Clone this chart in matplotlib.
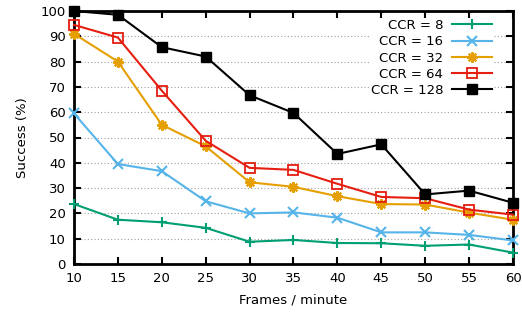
import matplotlib
matplotlib.use("Agg")
import matplotlib.pyplot as plt

frames = [10, 15, 20, 25, 30, 35, 40, 45, 50, 55, 60]
ccr8 = [23.7, 17.5, 16.5, 14.3, 8.8, 9.5, 8.3, 8.2, 7.2, 7.7, 4.5]
ccr16 = [59.5, 39.5, 36.7, 24.8, 20.0, 20.4, 18.3, 12.5, 12.5, 11.5, 9.3]
ccr32 = [91.0, 80.0, 55.0, 46.5, 32.3, 30.5, 26.8, 23.7, 23.5, 20.3, 17.5]
ccr64 = [94.5, 89.5, 68.5, 48.7, 38.0, 37.2, 31.7, 26.5, 26.0, 21.5, 19.5]
ccr128 = [100.0, 98.5, 85.7, 82.0, 66.7, 59.7, 43.5, 47.3, 27.5, 29.0, 24.2]
labels = ["CCR = 8", "CCR = 16", "CCR = 32", "CCR = 64", "CCR = 128"]

plt.rcParams['font.family'] = ['DejaVu Sans']
fig = plt.figure(figsize=(5.22, 3.13), dpi=100)
ax = fig.add_axes([74/522, 49/313, (513-74)/522, (264-11)/313])

styles = [
    dict(color="#009e73", marker="+", ms=7.5, mew=1.5),
    dict(color="#56b4e9", marker="x", ms=6.5, mew=1.5),
    dict(color="#e69f00", marker=(8, 2, 0), ms=7.5, mew=1.5),
    dict(color="#e51e10", marker="s", ms=6.5, mew=1.3, mfc="none"),
    dict(color="black", marker="s", ms=7.5, mew=1.0),
]
for ys, lab, st in zip([ccr8, ccr16, ccr32, ccr64, ccr128], labels, styles):
    ax.plot(frames, ys, lw=1.5, label=lab, clip_on=False, zorder=3, **st)

ax.set_xlim(10, 60)
ax.set_ylim(0, 100)
ax.set_xticks(range(10, 61, 5))
ax.set_yticks(range(0, 101, 10))
ax.tick_params(direction="in", top=True, right=True, length=5, width=1.5, labelsize=9.5, pad=6)
ax.tick_params(axis="x", labeltop=False)
ax.tick_params(axis="y", labelright=False)
for s in ax.spines.values():
    s.set_linewidth(2)
ax.yaxis.grid(True, linestyle=(0, (1, 2)), color="#a0a0a0", lw=0.8)
ax.set_axisbelow(True)
ax.set_xlabel("Frames / minute", fontsize=9.5, labelpad=6)
ax.set_ylabel("Success (%)", fontsize=9.5, labelpad=8)

leg = ax.legend(loc="upper right", bbox_to_anchor=(0.97, 1.0), frameon=True, markerfirst=False,
                fontsize=9.5, handlelength=3, labelspacing=0.25, borderpad=0.1, handletextpad=0.7,
                fancybox=False, edgecolor="none", framealpha=1)
for t in leg.get_texts():
    t.set_ha("right")
leg.set_zorder(2.5)

fig.savefig("out.png", dpi=100)
